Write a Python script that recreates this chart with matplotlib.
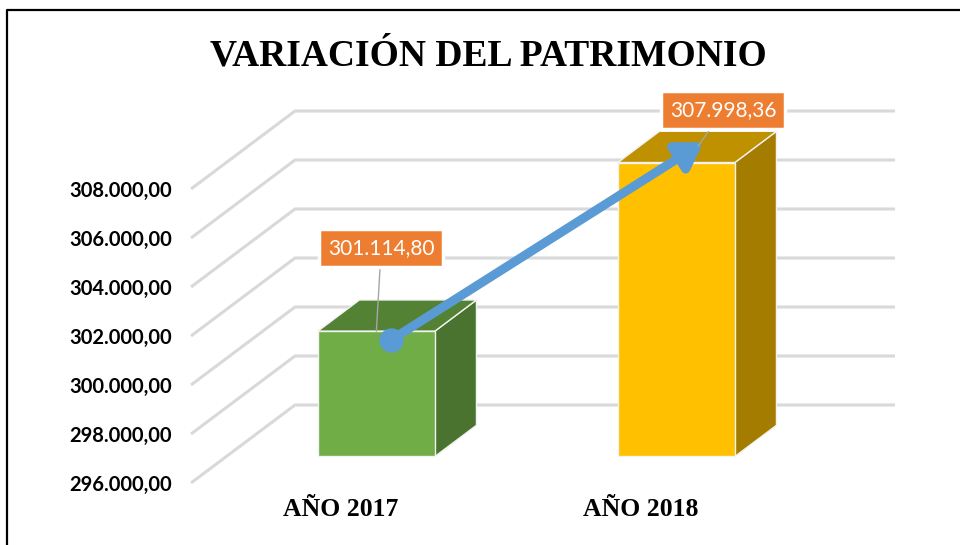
import numpy as np
import matplotlib.pyplot as plt
from matplotlib.patches import Polygon, FancyArrowPatch
from matplotlib.lines import Line2D

# data
categories = ['AÑO 2017', 'AÑO 2018']
values = [301114.80, 307998.36]
value_labels = ['301.114,80', '307.998,36']
y_ticks = [296000, 298000, 300000, 302000, 304000, 306000, 308000]
y_tick_labels = ['296.000,00', '298.000,00', '300.000,00', '302.000,00',
                 '304.000,00', '306.000,00', '308.000,00']

front_colors = ['#70AD47', '#FFC000']
top_colors = ['#548235', '#BF9000']
side_colors = ['#4B7330', '#A37C00']

DEPTH_DX = 104   # pixel shift of the back wall
DEPTH_DY = 78
BAR_W = 0.39
BAR_D0 = 0.34
BAR_D1 = 0.74

fig = plt.figure(figsize=(9.6, 5.45), dpi=100)
ax = fig.add_axes([191 / 960, 62 / 545, 600 / 960, 294 / 545])
ax.set_xlim(-0.5, 1.5)
ax.set_ylim(296000, 308000)
# axes drawn above the hand-made 3D pieces so labels sit on top
ax.set_zorder(7)
ax.patch.set_visible(False)
for s in ax.spines.values():
    s.set_visible(False)

ax.set_yticks(y_ticks, y_tick_labels)
ax.set_xticks(range(len(categories)), categories)
ax.tick_params(axis='y', length=0, pad=13.5)
ax.tick_params(axis='x', length=0, pad=11)
for lab in ax.get_yticklabels():
    lab.set_fontfamily('Lato')
    lab.set_fontweight('bold')
    lab.set_fontsize(14.5)
for lab in ax.get_xticklabels():
    lab.set_fontfamily('Liberation Serif')
    lab.set_fontweight('bold')
    lab.set_fontsize(18.5)

scale = fig.dpi / 100.0


def proj(x, v, d):
    # data point on the front plane, pushed back by depth d (0..1)
    px, py = ax.transData.transform((x, v))
    return (px + DEPTH_DX * d * scale, py + DEPTH_DY * d * scale)


# gridlines: diagonal on the side wall, flat on the back wall
x0, x1 = ax.get_xlim()
for v in y_ticks:
    pts = [proj(x0, v, 0), proj(x0, v, 1), proj(x1, v, 1)]
    xs, ys = zip(*pts)
    fig.add_artist(Line2D(xs, ys, transform=None, color='#D9D9D9', lw=2.2,
                          solid_capstyle='butt', zorder=1))

# 3D bars
base = y_ticks[0]
for i, v in enumerate(values):
    l, r = i - BAR_W / 2, i + BAR_W / 2
    side = [proj(r, base, BAR_D0), proj(r, v, BAR_D0),
            proj(r, v, BAR_D1), proj(r, base, BAR_D1)]
    top = [proj(l, v, BAR_D0), proj(r, v, BAR_D0),
           proj(r, v, BAR_D1), proj(l, v, BAR_D1)]
    front = [proj(l, base, BAR_D0), proj(r, base, BAR_D0),
             proj(r, v, BAR_D0), proj(l, v, BAR_D0)]
    for poly, col in [(side, side_colors[i]), (top, top_colors[i]),
                      (front, front_colors[i])]:
        fig.add_artist(Polygon(poly, closed=True, transform=None,
                               facecolor=col, edgecolor='#F2F2F2',
                               lw=1.0, zorder=2))

# trend arrow from 2017 bar to 2018 bar
start = proj(0.05, values[0] - 350, BAR_D0)
end = proj(1.0, values[1], 0.6)
arr = FancyArrowPatch(start, end, transform=None,
                      arrowstyle='-|>,head_length=15,head_width=9.5',
                      color='#5B9BD5', lw=6.5, shrinkA=0, shrinkB=0, zorder=4)
fig.add_artist(arr)
fig.add_artist(Line2D([start[0]], [start[1]], transform=None, marker='o',
                      markersize=16.5, color='#5B9BD5', zorder=5))

# data labels with leader lines
label_offsets = [(3.5, 60), (18, 26)]   # points
anchors = [(0.0, values[0], BAR_D0), (1.0, values[1], 0.55)]
for i, (txt, off) in enumerate(zip(value_labels, label_offsets)):
    ax_pt = proj(*anchors[i])
    fig_xy = fig.transFigure.inverted().transform(ax_pt)
    ax.annotate(txt, xy=fig_xy, xycoords='figure fraction',
                xytext=off, textcoords='offset points',
                ha='center', va='center', fontsize=15, color='white',
                family='Lato',
                bbox=dict(boxstyle='square,pad=0.42', fc='#ED7D31',
                          ec='white', lw=2.5),
                arrowprops=dict(arrowstyle='-', color='#A6A6A6', lw=1,
                                shrinkA=0, shrinkB=0),
                annotation_clip=False, zorder=6)

fig.text(0.509, 0.897, 'VARIACIÓN DEL PATRIMONIO', ha='center', va='center',
         fontsize=27, fontweight='bold', family='Liberation Serif')

# chart frame (left and top edges visible)
fig.add_artist(Line2D([7, 7, 960], [0, 535, 535], transform=None,
                      color='black', lw=1.6, zorder=10))

fig.savefig('out.png', dpi=100, facecolor='white')
